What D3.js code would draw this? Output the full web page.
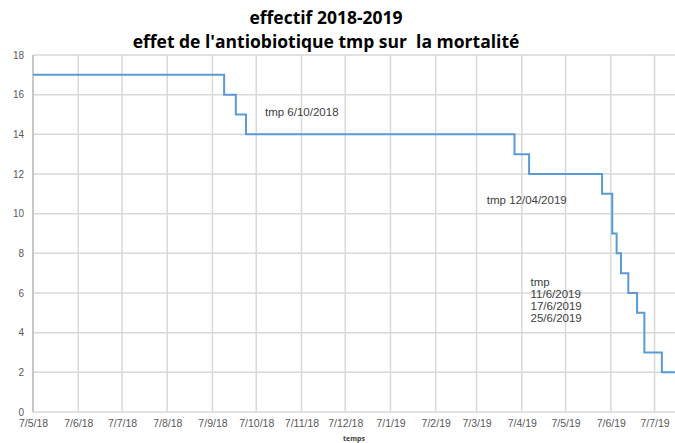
<!DOCTYPE html>
<meta charset="utf-8">
<style>
body { margin: 0; background: #fff; }
svg { display: block; font-family: "Open Sans", "Liberation Sans", sans-serif; }
.grid line { stroke: #d9d9d9; stroke-width: 1.5px; }
.axis text { fill: #595959; }
.axis--x text { font-size: 10.5px; }
.axis--y text { font-size: 10px; }
.axis path, .axis line { display: none; }
.line { fill: none; stroke: #5b9bd5; stroke-width: 2px; }
.note { fill: #404040; font-size: 11.5px; font-family: "Liberation Sans", sans-serif; }
</style>
<svg width="675" height="443"></svg>
<script src="https://d3js.org/d3.v7.min.js"></script>
<script>

// step data: date (d/m/yyyy) and number of survivors
var dates = ["7/5/2018", "15/9/2018", "23/9/2018", "30/9/2018", "2/4/2019", "12/4/2019",
             "1/6/2019", "8/6/2019", "11/6/2019", "14/6/2019", "19/6/2019", "25/6/2019",
             "30/6/2019", "12/7/2019", "21/7/2019"];
var effectif = [17, 16, 15, 14, 13, 12, 11, 9, 8, 7, 6, 5, 3, 2, 2];

var tickLabels = ["7/5/18", "7/6/18", "7/7/18", "7/8/18", "7/9/18", "7/10/18", "7/11/18",
                  "7/12/18", "7/1/19", "7/2/19", "7/3/19", "7/4/19", "7/5/19", "7/6/19", "7/7/19"];
var yTicks = [0, 2, 4, 6, 8, 10, 12, 14, 16, 18];

var notes = [
  {date: "13/10/2018", value: 14.9, lines: ["tmp 6/10/2018"]},
  {date: "14/3/2019", value: 10.5, lines: ["tmp 12/04/2019"]},
  {date: "13/4/2019", value: 6.35, lines: ["tmp", "11/6/2019", "17/6/2019", "25/6/2019"]}
];

var parseDate = d3.timeParse("%d/%m/%Y"),
    parseTick = d3.timeParse("%d/%m/%y");

var data = dates.map(function(d, i) { return {date: parseDate(d), value: effectif[i]}; });
var tickDates = tickLabels.map(function(t) { return parseTick(t); });

var svg = d3.select("svg"),
    margin = {top: 55, right: 0, bottom: 31, left: 33},
    width = svg.attr("width") - margin.left - margin.right,
    height = svg.attr("height") - margin.top - margin.bottom,
    g = svg.append("g").attr("transform", "translate(" + margin.left + "," + margin.top + ")");

var x = d3.scaleTime()
    .domain([data[0].date, data[data.length - 1].date])
    .range([0, width]);

var y = d3.scaleLinear().domain([0, 18]).range([height, 0]);

// grid
g.append("g").attr("class", "grid")
  .selectAll("line").data(yTicks).enter().append("line")
    .attr("x1", 0).attr("x2", width)
    .attr("y1", function(d) { return y(d); }).attr("y2", function(d) { return y(d); });

g.append("g").attr("class", "grid")
  .selectAll("line").data(tickDates).enter().append("line")
    .attr("x1", function(d) { return x(d); }).attr("x2", function(d) { return x(d); })
    .attr("y1", 0).attr("y2", height);

g.append("line")
    .attr("x1", 0).attr("x2", 0).attr("y1", 0).attr("y2", height)
    .style("stroke", "#bfbfbf").style("stroke-width", "1.5px");

// axes
g.append("g")
    .attr("class", "axis axis--x")
    .attr("transform", "translate(0," + height + ")")
    .call(d3.axisBottom(x).tickValues(tickDates)
      .tickFormat(function(d, i) { return tickLabels[i]; }).tickSize(0).tickPadding(8));

g.append("g")
    .attr("class", "axis axis--y")
    .call(d3.axisLeft(y).tickValues(yTicks).tickSize(0).tickPadding(9));

g.append("text")
    .attr("x", 310).attr("y", height + 29)
    .style("font-size", "7px").style("font-weight", "bold").style("fill", "#404040")
    .text("temps");

// series
var line = d3.line()
    .curve(d3.curveStepAfter)
    .x(function(d) { return x(d.date); })
    .y(function(d) { return y(d.value); });

g.append("path").datum(data).attr("class", "line").attr("d", line);

// annotations
notes.forEach(function(n) {
  var t = g.append("text").attr("class", "note")
      .attr("transform", "translate(" + x(parseDate(n.date)) + "," + y(n.value) + ")");
  n.lines.forEach(function(s, i) {
    t.append("tspan").attr("x", 0).attr("dy", i ? 12 : 0).text(s);
  });
});

// title
var title = svg.append("text")
    .attr("text-anchor", "middle")
    .style("white-space", "pre")
    .style("font-size", "17.5px").style("font-weight", "bold").style("fill", "#000");
title.append("tspan").attr("x", 326).attr("y", 24).text("effectif 2018-2019");
title.append("tspan").attr("x", 326).attr("y", 48).text("effet de l'antiobiotique tmp sur  la mortalité");

</script>
